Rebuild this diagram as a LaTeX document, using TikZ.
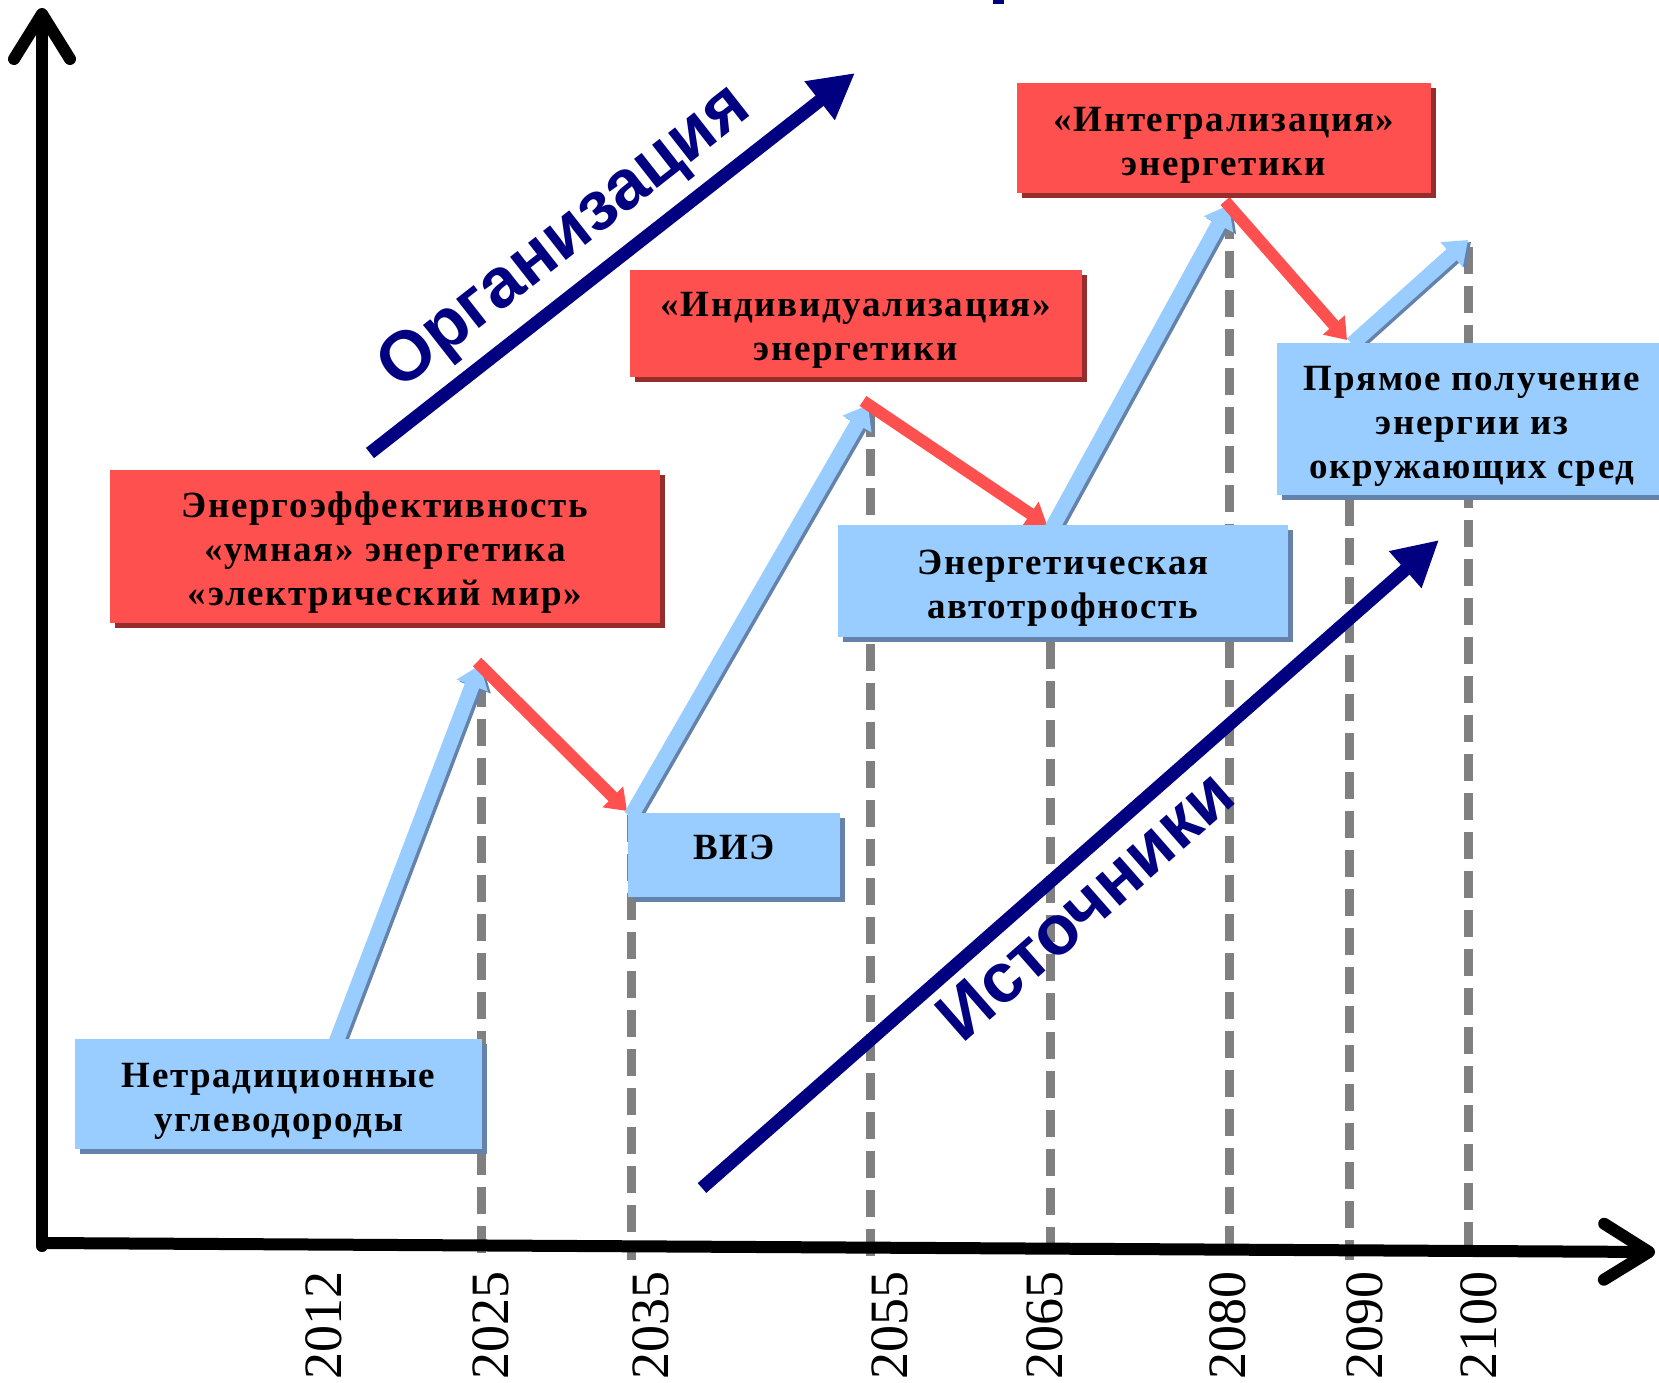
\documentclass[tikz,border=0pt]{standalone}
\usepackage{fontspec}
\setmainfont{Liberation Serif}
\newfontfamily\trendfont{Liberation Sans}
\newfontfamily\boxfont[LetterSpace=4.5]{Liberation Serif}
\usetikzlibrary{arrows.meta,shadows}
\definecolor{redfill}{RGB}{255,80,80}
\definecolor{redshade}{RGB}{150,45,45}
\definecolor{bluefill}{RGB}{153,204,255}
\definecolor{blueshade}{RGB}{100,130,170}
\definecolor{navyc}{RGB}{0,0,128}
\definecolor{dashgray}{RGB}{128,128,128}
\newcommand{\firstline}{\rule{0pt}{38pt}}
\begin{document}
\begin{tikzpicture}[x=1pt,y=-1pt,
  card/.style={inner sep=0pt, align=center, font={\boxfont\bfseries\fontsize{37}{44}\selectfont}},
  redcard/.style={card, fill=redfill, drop shadow={shadow xshift=5pt, shadow yshift=-5pt, fill=redshade, opacity=1}},
  bluecard/.style={card, fill=bluefill, drop shadow={shadow xshift=5pt, shadow yshift=-5pt, fill=blueshade, opacity=1}},
  yearlbl/.style={rotate=90, inner sep=0pt, font={\fontsize{54}{60}\selectfont}},
  gdash/.style={draw=dashgray, line width=9pt, dash pattern=on 27pt off 12pt},
  uparrow/.style={line width=15pt, draw=bluefill, -{Triangle[length=22pt,width=32pt]}},
  upshade/.style={line width=15pt, draw=blueshade, -{Triangle[length=22pt,width=32pt]}},
  downarrow/.style={line width=12pt, draw=redfill, -{Triangle[length=20pt,width=28pt]}},
  axisline/.style={line width=12pt, line cap=round, -{Straight Barb[length=45pt,width=56pt,round]}},
  trend/.style={line width=13pt, draw=navyc, -{Triangle[length=45pt,width=46pt]}},
  trendlbl/.style={inner sep=0pt, text=navyc, font={\trendfont\bfseries\fontsize{70}{80}\selectfont}}
]
\useasboundingbox (0,0) rectangle (1659,1383);
\fill[white] (0,0) rectangle (1659,1383);

% cut-off fragment at the top
\fill[navyc] (993,0) rectangle (1004,4);

% coordinates
\coordinate (o) at (42,1246);
\coordinate (ytop) at (42,8);
\coordinate (xo) at (42,1243);
\coordinate (xend) at (1655,1252);

\coordinate (d1t) at (481,680);  \coordinate (d1b) at (481,1260);
\coordinate (d2t) at (631,815);  \coordinate (d2b) at (631,1260);
\coordinate (d3t) at (870,410);  \coordinate (d3b) at (870,1260);
\coordinate (d4t) at (1050,525); \coordinate (d4b) at (1050,1260);
\coordinate (d5t) at (1229,212); \coordinate (d5b) at (1229,1260);
\coordinate (d6t) at (1349,343); \coordinate (d6b) at (1349,1260);
\coordinate (d7t) at (1468,247); \coordinate (d7b) at (1468,1260);

\coordinate (z0) at (333,1050);
\coordinate (z1) at (480,665);
\coordinate (z1r) at (477,662);
\coordinate (z2) at (627,811);
\coordinate (z2b) at (631,816);
\coordinate (z3) at (868,405);
\coordinate (z3r) at (863,401);
\coordinate (z4) at (1047,525);
\coordinate (z4b) at (1052,528);
\coordinate (z5) at (1229,205);
\coordinate (z5r) at (1225,201);
\coordinate (z6) at (1347,340);
\coordinate (z6b) at (1352,344);
\coordinate (z7) at (1468,240);

\coordinate (orgS) at (370,453);
\coordinate (orgE) at (855,73);
\coordinate (srcS) at (702,1188);
\coordinate (srcE) at (1439,540);

% dashed guides
\draw[gdash] (d1t) -- (d1b);
\draw[gdash] (d2t) -- (d2b);
\draw[gdash] (d3t) -- (d3b);
\draw[gdash] (d4t) -- (d4b);
\draw[gdash] (d5t) -- (d5b);
\draw[gdash] (d6t) -- (d6b);
\draw[gdash] (d7t) -- (d7b);

% axes
\draw[axisline] (o) -- (ytop);
\draw[axisline] (xo) -- (xend);

% zigzag
\draw[upshade, transform canvas={shift={(3pt,-2pt)}}] (z0) -- (z1);
\draw[uparrow] (z0) -- (z1);
\draw[downarrow] (z1r) -- (z2);
\draw[upshade, transform canvas={shift={(3pt,-2pt)}}] (z2b) -- (z3);
\draw[uparrow] (z2b) -- (z3);
\draw[downarrow] (z3r) -- (z4);
\draw[upshade, transform canvas={shift={(3pt,-2pt)}}] (z4b) -- (z5);
\draw[uparrow] (z4b) -- (z5);
\draw[downarrow] (z5r) -- (z6);
\draw[upshade, transform canvas={shift={(3pt,-2pt)}}] (z6b) -- (z7);
\draw[uparrow] (z6b) -- (z7);

% boxes
\node[bluecard, minimum width=407pt, minimum height=110pt] (b1) at (278.5,1094) {\firstline Нетрадиционные\\углеводороды};
\node[redcard, minimum width=550pt, minimum height=153pt] (b2) at (385,546.5) {\firstline Энергоэффективность\\«умная» энергетика\\«электрический мир»};
\node[bluecard, minimum width=212pt, minimum height=84pt] (b3) at (734,855) {\raisebox{15pt}{ВИЭ}};
\node[redcard, minimum width=452pt, minimum height=107pt] (b4) at (856,323.5) {\firstline «Индивидуализация»\\энергетики};
\node[bluecard, minimum width=450pt, minimum height=112pt] (b5) at (1063,581) {\firstline Энергетическая\\автотрофность};
\node[redcard, minimum width=414pt, minimum height=110pt] (b6) at (1224,138) {\firstline «Интегрализация»\\энергетики};
\node[bluecard, minimum width=390pt, minimum height=152pt] (b7) at (1472,419) {\firstline Прямое получение\\энергии из\\окружающих сред};

% trend arrows
\draw[trend] (orgS) -- (orgE);
\node[trendlbl, rotate=38.1] (org) at (566,239) {Организация};
\draw[trend] (srcS) -- (srcE);
\node[trendlbl, rotate=41.3] (src) at (1085,905) {Источники};

% years
\node[yearlbl] (y2012) at (324,1325) {2012};
\node[yearlbl] (y2025) at (491,1325) {2025};
\node[yearlbl] (y2035) at (651,1325) {2035};
\node[yearlbl] (y2055) at (890,1325) {2055};
\node[yearlbl] (y2065) at (1045,1325) {2065};
\node[yearlbl] (y2080) at (1228,1325) {2080};
\node[yearlbl] (y2090) at (1365,1325) {2090};
\node[yearlbl] (y2100) at (1479,1325) {2100};
\end{tikzpicture}
\end{document}
